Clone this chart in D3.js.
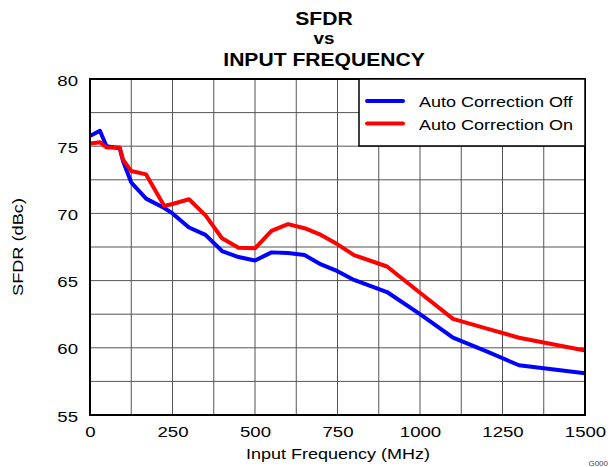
<!DOCTYPE html>
<html><head><meta charset="utf-8">
<script src="https://cdn.jsdelivr.net/npm/d3@7"></script>
<style>body{margin:0;background:#fff}svg{display:block}text{font-family:Arial,"Liberation Sans",Helvetica,sans-serif}</style>
</head><body>
<script>
const freqs = [0,30,50,90,100,125,170,225,250,300,350,400,450,500,550,600,650,700,750,800,900,1000,1100,1200,1300,1500];
const sfdrOff = [75.76,76.15,75.0,74.85,73.9,72.3,71.1,70.4,70.0,68.95,68.4,67.2,66.75,66.5,67.1,67.05,66.9,66.2,65.7,65.05,64.15,62.5,60.75,59.75,58.7,58.1];
const sfdrOn  = [75.2,75.3,74.9,74.9,74.0,73.15,72.9,70.55,70.7,71.05,69.85,68.15,67.45,67.4,68.7,69.2,68.9,68.4,67.7,66.9,66.05,64.1,62.15,61.45,60.75,59.8];
const seriesNames = ["Auto Correction Off","Auto Correction On"];
const seriesColors = ["#0000ff","#ff0000"];
const xTicks = [0,250,500,750,1000,1250,1500];
const yTicks = [55,60,65,70,75,80];
const xGrid = d3.range(0,1501,125);
const yGrid = d3.range(55,80.1,2.5);
const titleLines = ["SFDR","vs","INPUT FREQUENCY"];

const W=610,H=467;
const L=90,R=585,T=79,B=415;
const svg=d3.select("body").append("svg").attr("width",W).attr("height",H);
const x=d3.scaleLinear().domain([0,1500]).range([L,R]);
const y=d3.scaleLinear().domain([55,80]).range([B,T]);
const SX=1.2;

// grid
svg.append("g").selectAll("line").data(xGrid).join("line")
 .attr("x1",d=>x(d)).attr("x2",d=>x(d)).attr("y1",T).attr("y2",B)
 .attr("stroke","#555").attr("stroke-width",1);
svg.append("g").selectAll("line").data(yGrid).join("line")
 .attr("x1",L).attr("x2",R).attr("y1",d=>y(d)).attr("y2",d=>y(d))
 .attr("stroke","#555").attr("stroke-width",1);

// lines
const line=d3.line().x(d=>x(d[0])).y(d=>y(d[1]));
[sfdrOff,sfdrOn].forEach((vals,i)=>{
  svg.append("path").datum(freqs.map((f,j)=>[f,vals[j]]))
   .attr("d",line).attr("fill","none").attr("stroke",seriesColors[i])
   .attr("stroke-width",4).attr("stroke-linejoin","round");
});

// axes
const xa=svg.append("g").attr("transform",`translate(0,${B})`)
 .call(d3.axisBottom(x).tickValues(xTicks).tickFormat(d3.format("d")).tickSize(0).tickPadding(0));
xa.select(".domain").remove();
xa.selectAll("text").attr("y",0).attr("dy",null).attr("font-size",15.5).attr("fill","#000")
 .attr("transform","translate(0,22) scale("+SX+",1)");
const ya=svg.append("g").attr("transform",`translate(${L},0)`)
 .call(d3.axisLeft(y).tickValues(yTicks).tickSize(0).tickPadding(0));
ya.select(".domain").remove();
ya.selectAll("text").attr("x",0).attr("dy",null).attr("y",0).attr("font-size",15.5).attr("fill","#000")
 .attr("text-anchor","end").attr("transform","translate(-12,6) scale("+SX+",1)");

// frame
svg.append("rect").attr("x",L).attr("y",T).attr("width",R-L).attr("height",B-T)
 .attr("fill","none").attr("stroke","#000").attr("stroke-width",2);

// legend
const lg=svg.append("g");
lg.append("rect").attr("x",359).attr("y",T).attr("width",R-359).attr("height",67)
 .attr("fill","#fff").attr("stroke","#000").attr("stroke-width",1.5);
seriesNames.forEach((n,i)=>{
  const yy=101+i*22.5;
  lg.append("line").attr("x1",367).attr("x2",403).attr("y1",yy).attr("y2",yy)
   .attr("stroke",seriesColors[i]).attr("stroke-width",4).attr("stroke-linecap","round");
  lg.append("text").attr("transform",`translate(419,${yy+6}) scale(${SX},1)`)
   .attr("font-size",15).text(n);
});

// titles
const tb=[25,44,66], ts=[19,17,19];
titleLines.forEach((t,i)=>{
  svg.append("text").attr("transform",`translate(324,${tb[i]}) scale(1.11,1)`)
   .attr("text-anchor","middle").attr("font-weight","bold").attr("font-size",ts[i]).text(t);
});
svg.append("text").attr("transform",`translate(338,459) scale(${SX},1)`)
 .attr("text-anchor","middle").attr("font-size",15).text("Input Frequency (MHz)");
svg.append("text").attr("transform",`translate(23,247) rotate(-90) scale(1.3,1)`)
 .attr("text-anchor","middle").attr("font-size",14).text("SFDR (dBc)");
svg.append("text").attr("x",608).attr("y",466).attr("text-anchor","end")
 .attr("font-size",8).attr("fill","#444").text("G000");
</script>
</body></html>
